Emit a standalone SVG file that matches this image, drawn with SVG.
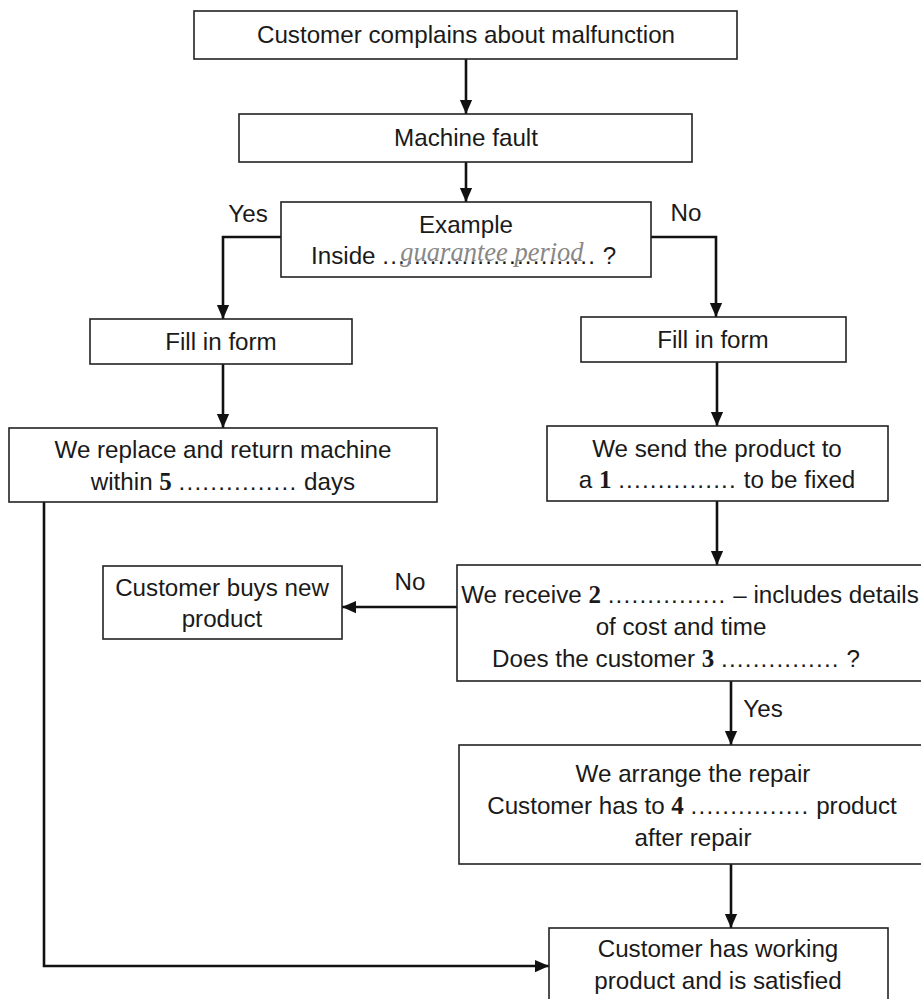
<svg xmlns="http://www.w3.org/2000/svg" width="921" height="999" viewBox="0 0 921 999">
<defs>
<marker id="ah" markerUnits="userSpaceOnUse" markerWidth="14" markerHeight="18" refX="16" refY="7" viewBox="0 0 16 14" orient="auto">
<path d="M0,0 L16,7 L0,14 z" fill="#111"/>
</marker>
<style>
.box{fill:#fff;stroke:#222;stroke-width:1.6}
.t{font-family:"Liberation Sans",Arial,sans-serif;font-size:24.2px;fill:#1a1a1a;text-anchor:middle}
.n{font-family:"Liberation Serif","Times New Roman",serif;font-weight:bold;font-size:25px}
.d{letter-spacing:1.2px}
.hw{font-family:"Liberation Serif",serif;font-style:italic;font-size:26.5px;fill:#888}
.c{fill:none;stroke:#111;stroke-width:2.6}
</style>
</defs>
<rect width="921" height="999" fill="#fff"/>
<g id="connectors">
<path class="c" d="M466,59 V114" marker-end="url(#ah)"/>
<path class="c" d="M466,162 V202" marker-end="url(#ah)"/>
<path class="c" d="M281,237 H223 V319" marker-end="url(#ah)"/>
<path class="c" d="M651,237 H716 V317" marker-end="url(#ah)"/>
<path class="c" d="M223,364 V428" marker-end="url(#ah)"/>
<path class="c" d="M717,362 V426" marker-end="url(#ah)"/>
<path class="c" d="M717,501 V565" marker-end="url(#ah)"/>
<path class="c" d="M457,607 H342" marker-end="url(#ah)"/>
<path class="c" d="M731,681 V745" marker-end="url(#ah)"/>
<path class="c" d="M731,864 V928" marker-end="url(#ah)"/>
<path class="c" d="M44,502 V966 H549" marker-end="url(#ah)"/>
<text class="t" x="248" y="222">Yes</text>
<text class="t" x="686" y="221">No</text>
<text class="t" x="410" y="590">No</text>
<text class="t" x="763" y="717">Yes</text>
</g>
<g id="n1">
<rect class="box" x="194" y="11" width="543" height="48"/>
<text class="t" x="466" y="43">Customer complains about malfunction</text>
</g>
<g id="n2">
<rect class="box" x="239" y="114" width="453" height="48"/>
<text class="t" x="466" y="146">Machine fault</text>
</g>
<g id="n3">
<rect class="box" x="281" y="202" width="370" height="75"/>
<text class="t" x="466" y="233">Example</text>
<text class="t" x="311" y="264" style="text-anchor:start">Inside <tspan class="d">...........................</tspan> ?</text>
<text class="hw" x="492" y="261" text-anchor="middle">guarantee period</text>
</g>
<g id="n4">
<rect class="box" x="90" y="319" width="262" height="45"/>
<text class="t" x="221" y="350">Fill in form</text>
</g>
<g id="n5">
<rect class="box" x="581" y="317" width="265" height="45"/>
<text class="t" x="713" y="348">Fill in form</text>
</g>
<g id="n6">
<rect class="box" x="9" y="428" width="428" height="74"/>
<text class="t" x="223" y="458">We replace and return machine</text>
<text class="t" x="223" y="490">within <tspan class="n">5</tspan> <tspan class="d">...............</tspan> days</text>
</g>
<g id="n7">
<rect class="box" x="547" y="426" width="341" height="75"/>
<text class="t" x="717" y="457">We send the product to</text>
<text class="t" x="717" y="488">a <tspan class="n">1</tspan> <tspan class="d">...............</tspan> to be fixed</text>
</g>
<g id="n8">
<rect class="box" x="103" y="566" width="239" height="73"/>
<text class="t" x="222" y="596">Customer buys new</text>
<text class="t" x="222" y="627">product</text>
</g>
<g id="n9">
<rect class="box" x="457" y="565" width="470" height="116"/>
<text class="t" x="690" y="603">We receive <tspan class="n">2</tspan> <tspan class="d">...............</tspan> – includes details</text>
<text class="t" x="681" y="635">of cost and time</text>
<text class="t" x="676" y="667">Does the customer <tspan class="n">3</tspan> <tspan class="d">...............</tspan> ?</text>
</g>
<g id="n10">
<rect class="box" x="459" y="745" width="468" height="119"/>
<text class="t" x="693" y="782">We arrange the repair</text>
<text class="t" x="692" y="814">Customer has to <tspan class="n">4</tspan> <tspan class="d">...............</tspan> product</text>
<text class="t" x="693" y="846">after repair</text>
</g>
<g id="n11">
<rect class="box" x="549" y="928" width="339" height="80"/>
<text class="t" x="718" y="957">Customer has working</text>
<text class="t" x="718" y="989">product and is satisfied</text>
</g>
</svg>
